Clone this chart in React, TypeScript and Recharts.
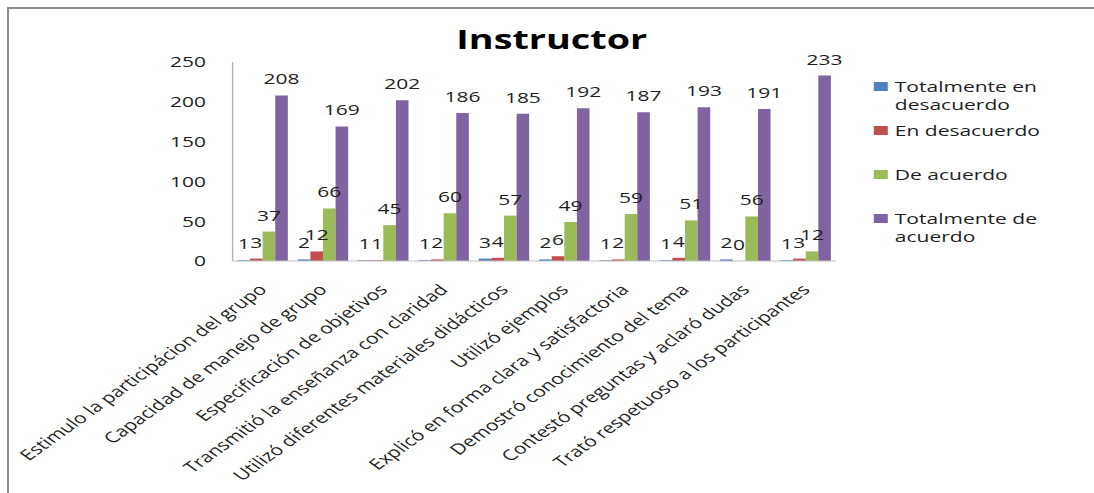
import { Bar, BarChart, LabelList, Legend, XAxis, YAxis } from "recharts";

const CATEGORIES = [
  "Estimulo la participácion del grupo",
  "Capacidad de manejo de grupo",
  "Especificación de objetivos",
  "Transmitió la enseñanza con claridad",
  "Utilizó diferentes materiales didácticos",
  "Utilizó ejemplos",
  "Explicó en forma clara y satisfactoria",
  "Demostró conocimiento del tema",
  "Contestó preguntas y aclaró dudas",
  "Trató respetuoso a los participantes",
];

const TOTALMENTE_DESACUERDO = [1, 2, 1, 1, 3, 2, 1, 1, 2, 1];
const EN_DESACUERDO = [3, 12, 1, 2, 4, 6, 2, 4, 0, 3];
const DE_ACUERDO = [37, 66, 45, 60, 57, 49, 59, 51, 56, 12];
const TOTALMENTE_ACUERDO = [208, 169, 202, 186, 185, 192, 187, 193, 191, 233];

const Y_TICKS = [0, 50, 100, 150, 200, 250];

const SERIES = [
  { key: "tdes", name: "Totalmente en desacuerdo", color: "#4F81BD", values: TOTALMENTE_DESACUERDO },
  { key: "des", name: "En desacuerdo", color: "#C0504D", values: EN_DESACUERDO },
  { key: "acu", name: "De acuerdo", color: "#9BBB59", values: DE_ACUERDO },
  { key: "tacu", name: "Totalmente de acuerdo", color: "#8064A2", values: TOTALMENTE_ACUERDO },
];

const rows = CATEGORIES.map((cat, i) => {
  const row: Record<string, string | number> = { cat };
  SERIES.forEach((s) => (row[s.key] = s.values[i]));
  return row;
});

const FONT = "'Open Sans', sans-serif";
const INK = "#1f1f1f";
const FRAME = "#8c8c8c";
// chart is laid out narrow and then widened horizontally
const SX = 1.4;
const W = 774;
const H = 483;

function CategoryTick({ x, y, payload }: any) {
  const py = y + 26;
  return (
    <text
      x={x}
      y={py}
      dy="0.35em"
      textAnchor="end"
      transform={`rotate(-45 ${x} ${py})`}
      fontSize={15}
      fontFamily={FONT}
      fill={INK}
    >
      {payload.value}
    </text>
  );
}

function LegendBox() {
  return (
    <div style={{ fontFamily: FONT, fontSize: 15, lineHeight: "18px", color: INK }}>
      {SERIES.map((s) => (
        <div key={s.key} style={{ height: 44, display: "flex", alignItems: "flex-start" }}>
          <span style={{ width: 10, height: 9, marginTop: 5, marginRight: 5, background: s.color, flexShrink: 0 }} />
          <span style={{ width: 112 }}>{s.name}</span>
        </div>
      ))}
    </div>
  );
}

export default function App() {
  return (
    <div style={{ position: "absolute", top: 7, left: 7, width: 1087, height: 486 }}>
      <div style={{ position: "absolute", top: 0, left: 0, width: 1087, height: 2, background: FRAME }} />
      <div style={{ position: "absolute", top: 0, left: 0, width: 2, height: 486, background: FRAME }} />
      <div
        style={{
          position: "absolute",
          top: 3,
          left: 3,
          width: W,
          height: H,
          transform: `scaleX(${SX})`,
          transformOrigin: "0 0",
        }}
      >
        <div
          style={{
            position: "absolute",
            top: 15,
            left: 0,
            width: W,
            textAlign: "center",
            fontFamily: FONT,
            fontWeight: 700,
            fontSize: 27,
            lineHeight: "28px",
            color: "#000",
            zIndex: 1,
          }}
        >
          Instructor
        </div>
        <BarChart
          width={W}
          height={H}
          data={rows}
          margin={{ top: 52, right: 184, bottom: 0, left: 119 }}
          barCategoryGap="8%"
          barGap={0}
        >
          <XAxis
            dataKey="cat"
            interval={0}
            height={232}
            tickLine={false}
            tickSize={0}
            tickMargin={0}
            axisLine={{ stroke: "#bfbfbf" }}
            tick={<CategoryTick />}
          />
          <YAxis
            domain={[0, 250]}
            ticks={Y_TICKS}
            width={40}
            tickLine={false}
            tickSize={0}
            tickMargin={19}
            axisLine={{ stroke: "#b3b3b3" }}
            tick={{ fill: INK, fontSize: 15, fontFamily: FONT }}
          />
          <Legend
            layout="vertical"
            align="center"
            verticalAlign="middle"
            content={<LegendBox />}
            wrapperStyle={{ left: 617, top: 67, width: 140 }}
          />
          {SERIES.map((s) => (
            <Bar
              key={s.key}
              dataKey={s.key}
              name={s.name}
              fill={s.color}
              minPointSize={0.01}
              isAnimationActive={false}
            >
              <LabelList
                dataKey={s.key}
                position="top"
                offset={11}
                fill={INK}
                fontSize={15}
                fontFamily={FONT}
              />
            </Bar>
          ))}
        </BarChart>
      </div>
    </div>
  );
}
